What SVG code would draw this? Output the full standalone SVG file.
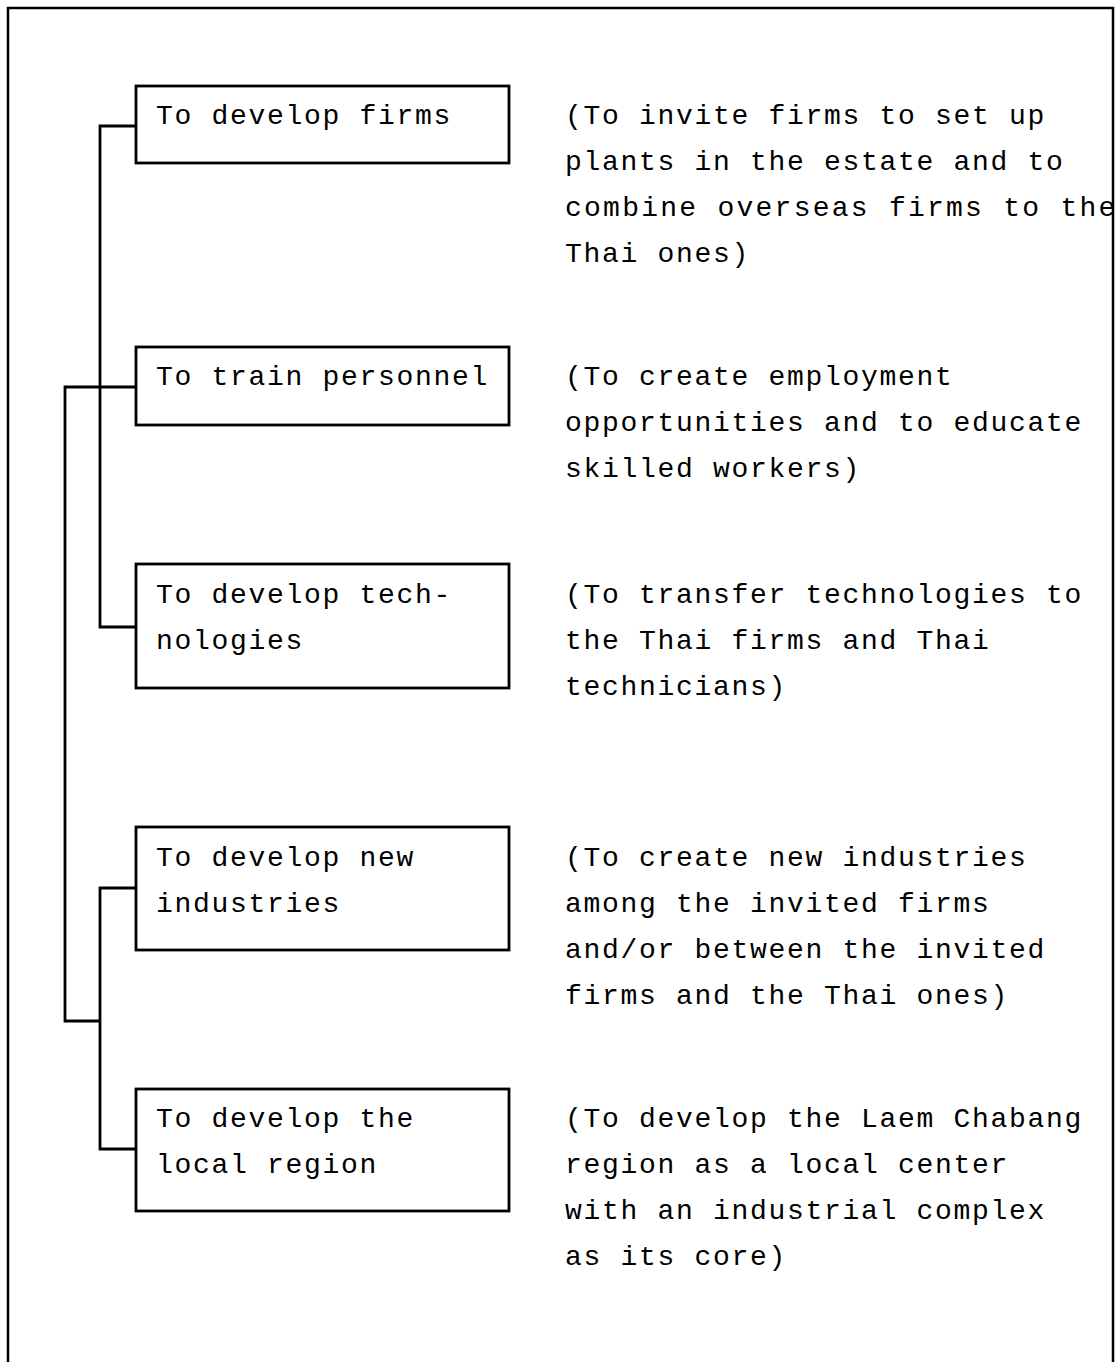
<svg xmlns="http://www.w3.org/2000/svg" width="1118" height="1362" viewBox="0 0 1118 1362">
  <style>
    .frame { fill: none; stroke: #000; stroke-width: 2.5; }
    .box { fill: none; stroke: #000; stroke-width: 2.8; }
    .wire { fill: none; stroke: #000; stroke-width: 2.8; stroke-linejoin: miter; }
    .t { font-family: "Liberation Mono", "DejaVu Sans Mono", monospace; font-size: 28px; letter-spacing: 1.7px; fill: #000; }
  </style>
  <rect x="0" y="0" width="1118" height="1362" fill="#fff"/>

  <!-- branch lines joining the objectives -->
  <g id="connectors">
    <path class="wire" d="M136,126 H100 V627 H136"/>
    <path class="wire" d="M136,387 H65 V1021 H100"/>
    <path class="wire" d="M136,888 H100 V1149 H136"/>
  </g>

  <g id="develop-firms">
    <rect class="box" x="136" y="86" width="373" height="77"/>
    <text class="t" x="156" y="124">To develop firms</text>
    <text class="t" x="565" y="124">(To invite firms to set up</text>
    <text class="t" x="565" y="170">plants in the estate and to</text>
    <text class="t" x="565" y="216" textLength="552" lengthAdjust="spacing">combine overseas firms to the</text>
    <text class="t" x="565" y="262">Thai ones)</text>
  </g>

  <g id="train-personnel">
    <rect class="box" x="136" y="347" width="373" height="78"/>
    <text class="t" x="156" y="385">To train personnel</text>
    <text class="t" x="565" y="385">(To create employment</text>
    <text class="t" x="565" y="431">opportunities and to educate</text>
    <text class="t" x="565" y="477">skilled workers)</text>
  </g>

  <g id="develop-technologies">
    <rect class="box" x="136" y="564" width="373" height="124"/>
    <text class="t" x="156" y="603">To develop tech-</text>
    <text class="t" x="156" y="649">nologies</text>
    <text class="t" x="565" y="603">(To transfer technologies to</text>
    <text class="t" x="565" y="649">the Thai firms and Thai</text>
    <text class="t" x="565" y="695">technicians)</text>
  </g>

  <g id="develop-new-industries">
    <rect class="box" x="136" y="827" width="373" height="123"/>
    <text class="t" x="156" y="866">To develop new</text>
    <text class="t" x="156" y="912">industries</text>
    <text class="t" x="565" y="866">(To create new industries</text>
    <text class="t" x="565" y="912">among the invited firms</text>
    <text class="t" x="565" y="958">and/or between the invited</text>
    <text class="t" x="565" y="1004">firms and the Thai ones)</text>
  </g>

  <g id="develop-local-region">
    <rect class="box" x="136" y="1089" width="373" height="122"/>
    <text class="t" x="156" y="1127">To develop the</text>
    <text class="t" x="156" y="1173">local region</text>
    <text class="t" x="565" y="1127">(To develop the Laem Chabang</text>
    <text class="t" x="565" y="1173">region as a local center</text>
    <text class="t" x="565" y="1219">with an industrial complex</text>
    <text class="t" x="565" y="1265">as its core)</text>
  </g>

  <!-- page frame, open at the bottom, drawn last so it clips the long line -->
  <rect x="1114" y="0" width="4" height="1362" fill="#fff"/>
  <path class="frame" d="M8,1362 V8 H1113 V1362"/>
</svg>
